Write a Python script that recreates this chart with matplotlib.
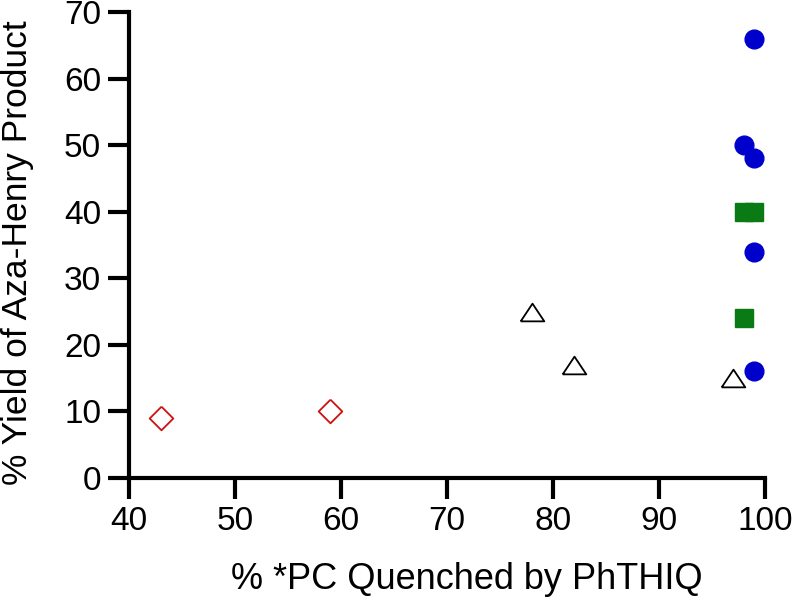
import numpy as np
import matplotlib
matplotlib.use("Agg")
import matplotlib.pyplot as plt

# blue circles
circ_x = [99, 98, 99, 99, 99]
circ_y = [66, 50, 48, 34, 16]
# green squares
sq_x = [98, 99, 98]
sq_y = [40, 40, 24]
# open triangles
tri_x = [78, 82, 97]
tri_y = [25, 17, 15]
# open red diamonds
dia_x = [43, 59]
dia_y = [9, 10]

plt.rcParams["font.family"] = ["Liberation Sans", "DejaVu Sans"]

fig = plt.figure(figsize=(7.92, 6.01), dpi=100)
ax = fig.add_axes([129 / 792, 1 - 478 / 601, 636 / 792, 466 / 601])

tri_marker = [(-1, -0.75), (1, -0.75), (0, 0.75), (-1, -0.75)]
dia_marker = [(0, 1), (1, 0), (0, -1), (-1, 0), (0, 1)]

ax.plot(dia_x, dia_y, ls="none", marker=dia_marker, ms=17, mfc="white",
        mec="#d01010", mew=1.3, clip_on=False)
ax.plot(tri_x, tri_y, ls="none", marker=tri_marker, ms=17, mfc="white",
        mec="black", mew=1.3, clip_on=False)
ax.plot(sq_x, sq_y, ls="none", marker="s", ms=12.5, mfc="#0a7a14",
        mec="#0a7a14", clip_on=False)
ax.plot(circ_x, circ_y, ls="none", marker="o", ms=13.5, mfc="#0000cc",
        mec="#0000cc", clip_on=False)

ax.set_xlim(40, 100)
ax.set_ylim(0, 70)
ax.set_xticks(np.arange(40, 101, 10))
ax.set_yticks(np.arange(0, 71, 10))

for s in ["top", "right"]:
    ax.spines[s].set_visible(False)
for s in ["left", "bottom"]:
    ax.spines[s].set_linewidth(3)
ax.tick_params(direction="out", length=15, width=3, labelsize=24, pad=5)

ax.set_xlabel("% *PC Quenched by PhTHIQ", fontsize=26)
ax.xaxis.set_label_coords(0.531, -0.18)
ax.set_ylabel("% Yield of Aza-Henry Product", fontsize=25.5)
ax.yaxis.set_label_coords(-0.149, 0.483)

fig.savefig("out.png", dpi=100)
